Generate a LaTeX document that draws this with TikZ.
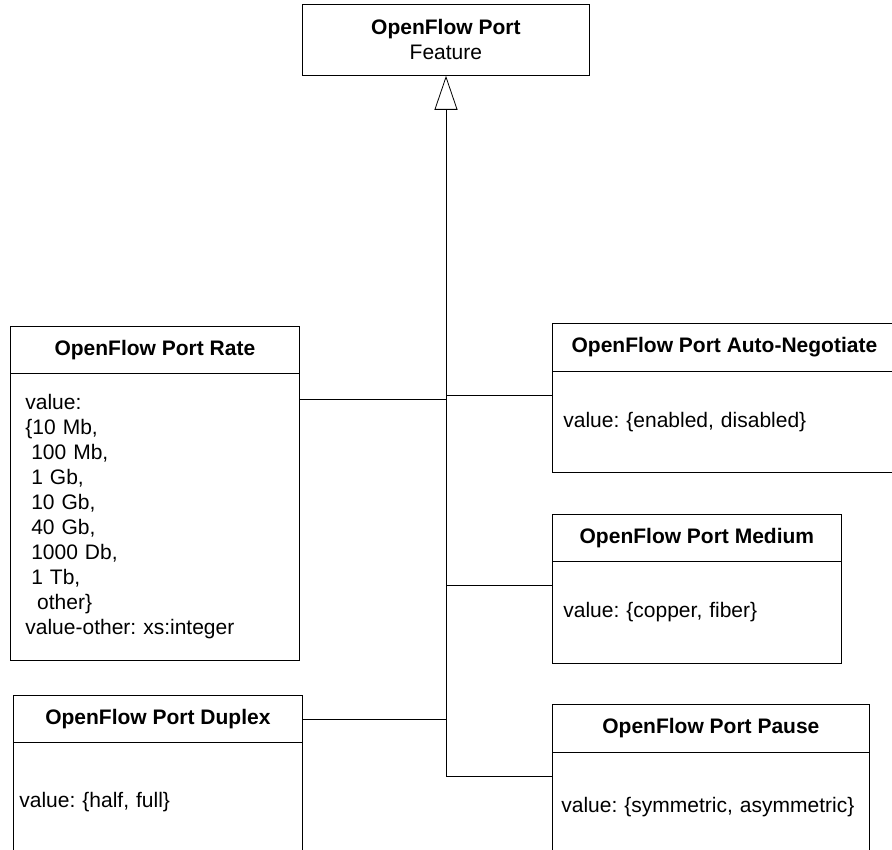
\documentclass[tikz,border=0pt]{standalone}
\usepackage{fontspec}
\setmainfont{Liberation Sans}
\usetikzlibrary{arrows.meta}
\frenchspacing
\begin{document}
\begin{tikzpicture}[x=1pt,y=-1pt,
  hdr/.style={draw, line width=0.8pt, anchor=north west, inner sep=0pt, align=center, font=\fontsize{21}{25}\selectfont\bfseries},
  bdy/.style={draw, line width=0.8pt, anchor=north west, inner ysep=0pt, align=left, font=\fontsize{21}{25}\selectfont},
  conn/.style={line width=0.8pt},
  inherit/.style={line width=0.8pt, -{Triangle[open,length=34pt,width=23pt]}}]
\useasboundingbox (0,0) rectangle (892,850);
\clip (0,0) rectangle (892,850);

% top class
\node[hdr, minimum width=287pt, minimum height=71pt] (top) at (302,4)
  {OpenFlow Port\\\mdseries Feature};

% Rate
\node[hdr, minimum width=289pt, minimum height=47pt] (ratehdr) at (10,326) {OpenFlow Port Rate};
\node[bdy, text width=259pt, inner xsep=15pt, minimum height=287pt] (ratebody) at (10,373)
  {value:\\
   \{10 Mb,\\
   \hspace*{0.28em}100 Mb,\\
   \hspace*{0.28em}1 Gb,\\
   \hspace*{0.28em}10 Gb,\\
   \hspace*{0.28em}40 Gb,\\
   \hspace*{0.28em}1000 Db,\\
   \hspace*{0.28em}1 Tb,\\
   \hspace*{0.56em}other\}\\
   value-other: xs:integer};

% Auto-Negotiate (its right side runs past the picture's edge)
\node[hdr, draw=none, minimum width=344pt, minimum height=48pt] (autohdr) at (552,323)
  {OpenFlow Port Auto-Negotiate};
\node[bdy, draw=none, text width=322pt, inner xsep=11pt, minimum height=101pt] (autobody) at (552,371)
  {value: \{enabled, disabled\}};
\draw[conn] ([xshift=60pt]autohdr.north east) -- (autohdr.north west)
  -- (autobody.south west) -- ([xshift=60pt]autobody.south east);
\draw[conn] (autohdr.south west) -- ([xshift=60pt]autohdr.south east);

% Medium
\node[hdr, minimum width=289pt, minimum height=47pt] (medhdr) at (552,514) {OpenFlow Port Medium};
\node[bdy, text width=267pt, inner xsep=11pt, minimum height=102pt] (medbody) at (552,561)
  {value: \{copper, fiber\}};

% Pause
\node[hdr, minimum width=317pt, minimum height=48pt] (pausehdr) at (552,704) {OpenFlow Port Pause};
\node[bdy, text width=299pt, inner xsep=9pt, minimum height=110pt] (pausebody) at (552,752)
  {value: \{symmetric, asymmetric\}};

% Duplex
\node[hdr, minimum width=289pt, minimum height=47pt] (duphdr) at (13,695) {OpenFlow Port Duplex};
\node[bdy, text width=277pt, inner xsep=6pt, minimum height=120pt] (dupbody) at (13,742)
  {value: \{half, full\}};

% connectors
\coordinate (jA) at (446,395);
\coordinate (jR) at (446,399);
\coordinate (jM) at (446,585);
\coordinate (jD) at (446,719);
\coordinate (jP) at (446,776);
\draw[inherit] (jP) -- (jP |- top.south);
\draw[conn] (jR) -- (jR -| ratebody.east);
\draw[conn] (jA) -- (jA -| autobody.west);
\draw[conn] (jM) -- (jM -| medbody.west);
\draw[conn] (jD) -- (jD -| duphdr.east);
\draw[conn] (jP) -- (jP -| pausebody.west);
\end{tikzpicture}
\end{document}
